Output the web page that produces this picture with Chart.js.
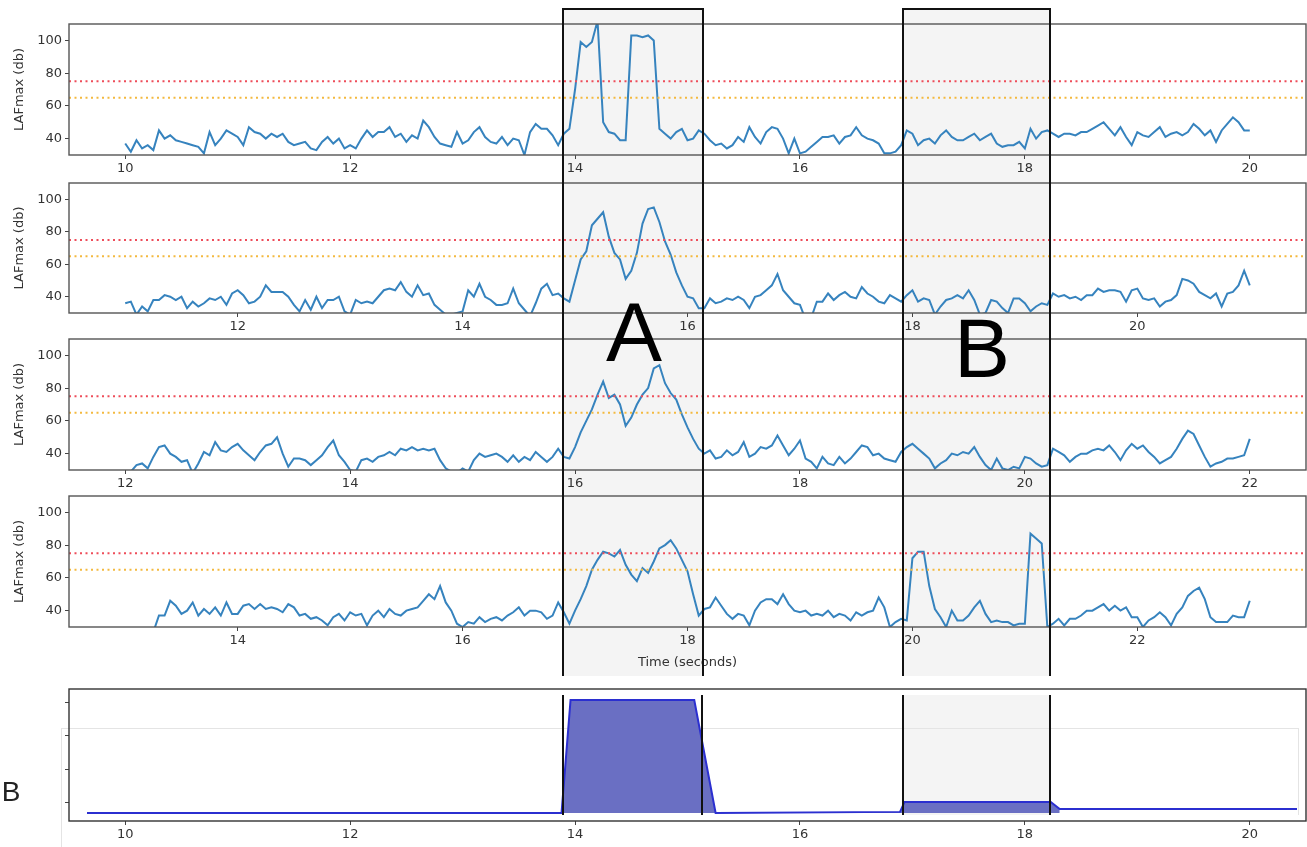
<!DOCTYPE html>
<html>
<head>
<meta charset="utf-8">
<title>LAFmax windows</title>
<script src="https://cdn.jsdelivr.net/npm/chart.js@4.4.1/dist/chart.umd.min.js"></script>
<style>
  body { margin: 0; background: #fff; }
  #fig { position: relative; width: 1307px; height: 847px; overflow: hidden; }
  canvas { position: absolute; left: 0; z-index: 1; }
  .shade { position: absolute; background: #f4f4f4; z-index: 0; }
  .ghost { position: absolute; z-index: 0; border-color: #e4e4e4; border-style: solid; border-width: 0; }
  .box { position: absolute; box-sizing: border-box; border: 2px solid #111; border-bottom: none; z-index: 2; }
  .vline { position: absolute; width: 2px; background: #111; z-index: 2; }
  .tag { position: absolute; z-index: 3; font-family: "Liberation Sans", Arial, sans-serif; color: #000; line-height: 1; text-align: center; }
</style>
</head>
<body>
<div id="fig">
  <div class="shade" style="left:564px; top:10px; width:138px; height:666px"></div>
  <div class="shade" style="left:904px; top:10px; width:145px; height:666px"></div>
  <div class="shade" style="left:904px; top:695px; width:145px; height:120px"></div>
  <div class="ghost" style="left:61px; top:728px; width:1237px; height:119px; border-top-width:1px; border-left-width:1px"></div>
  <div class="ghost" style="left:1298px; top:728px; width:0; height:87px; border-left-width:1px"></div>

  <canvas id="p1" width="1307" height="157" style="top:20px"></canvas>
  <canvas id="p2" width="1307" height="156" style="top:179px"></canvas>
  <canvas id="p3" width="1307" height="157" style="top:335px"></canvas>
  <canvas id="p4" width="1307" height="185" style="top:492px"></canvas>
  <canvas id="p5" width="1307" height="162" style="top:685px"></canvas>

  <div class="box" style="left:562px; top:8px; width:142px; height:668px"></div>
  <div class="box" style="left:902px; top:8px; width:149px; height:668px"></div>
  <div class="vline" style="left:562px; top:695px; height:120px"></div>
  <div class="vline" style="left:701px; top:695px; height:120px"></div>
  <div class="vline" style="left:902px; top:695px; height:120px"></div>
  <div class="vline" style="left:1049px; top:695px; height:120px"></div>

  <div class="tag" style="left:594px; top:290px; width:80px; font-size:84px">A</div>
  <div class="tag" style="left:942px; top:306px; width:80px; font-size:84px">B</div>
  <div class="tag" style="left:0px; top:778px; width:22px; font-size:28px; color:#222">B</div>
</div>

<script>
// sample clock of the recordings (seconds between points)
const SAMPLE_STEP = 0.05;

// window 1: 10 s .. 20 s
const start1 = 10;
const laf1 = [
  37,32,39,34,36,33,45,40,42,39, 38,37,36,35,31,44,36,40,45,43,
  41,36,47,44,43,40,43,41,43,38, 36,37,38,34,33,38,41,37,40,34,
  36,34,40,45,41,44,44,47,41,43, 38,42,40,51,47,41,37,36,35,44,
  37,39,44,47,41,38,37,41,36,40, 39,30,44,49,46,46,42,36,43,46,
  70,99,96,99,112,50,44,43,39,39, 103,103,102,103,100,46,43,40,44,46,
  39,40,45,43,39,36,37,34,36,41, 38,47,41,37,44,47,46,40,31,40,
  31,32,35,38,41,41,42,37,41,42, 47,42,40,39,37,31,31,32,36,45,
  43,36,39,40,37,42,45,41,39,39, 41,43,39,41,43,37,35,36,36,38,
  34,46,40,44,45,43,41,43,43,42, 44,44,46,48,50,46,42,47,41,36,
  44,42,41,44,47,41,43,44,42,44, 49,46,42,45,38,45,49,53,50,45,
  45
];

// window 2: 11 s .. 21 s
const start2 = 11;
const laf2 = [
  36,37,29,34,31,38,38,41,40,38, 40,33,37,34,36,39,38,40,35,42,
  44,41,36,37,40,47,43,43,43,40, 35,31,38,32,40,33,38,38,40,31,
  29,38,36,37,36,40,44,45,44,49, 43,40,47,41,42,35,32,29,29,30,
  31,44,40,48,40,38,35,35,36,45, 36,32,28,36,45,48,41,42,39,37,
  50,63,68,84,88,92,77,67,63,51, 56,67,85,94,95,86,74,66,55,47,
  40,39,33,33,39,36,37,39,38,40, 38,33,40,41,44,47,54,44,40,36,
  35,26,27,37,37,42,38,41,43,40, 39,46,42,40,37,36,41,39,37,41,
  44,37,39,38,29,34,38,39,41,39, 44,38,29,30,38,37,33,30,39,39,
  36,31,34,36,35,42,40,41,39,40, 38,41,41,45,43,44,44,43,37,44,
  45,39,38,39,34,37,38,41,51,50, 48,43,41,39,42,34,42,43,47,56,
  47
];

// window 3: 12 s .. 22 s
const start3 = 12;
const laf3 = [
  27,29,33,34,31,38,44,45,40,38, 35,36,28,34,41,39,47,42,41,44,
  46,42,39,36,41,45,46,50,40,32, 37,37,36,33,36,39,44,48,39,35,
  30,29,36,37,35,38,39,41,39,43, 42,44,42,43,42,43,36,31,29,28,
  31,29,36,40,38,39,40,38,35,39, 35,38,36,41,38,35,38,43,38,37,
  44,53,60,67,76,84,74,76,70,57, 62,70,76,80,92,94,83,77,73,64,
  56,49,43,40,42,37,38,42,39,41, 47,38,40,44,43,45,51,45,39,43,
  48,37,35,31,38,34,33,38,34,37, 41,45,44,39,40,37,36,35,41,44,
  46,43,40,37,31,34,36,40,39,41, 40,44,38,33,30,37,31,30,32,31,
  38,37,34,32,33,43,41,39,35,38, 40,40,42,43,42,45,41,36,42,46,
  43,45,41,38,34,36,38,43,49,54, 52,45,38,32,34,35,37,37,38,39,
  49
];

// window 4: 13 s .. 23 s
const start4 = 13;
const laf4 = [
  24,22,25,23,26,27,37,37,46,43, 38,40,45,37,41,38,42,37,45,38,
  38,43,44,41,44,41,42,41,39,44, 42,37,38,35,36,34,31,36,38,34,
  39,37,38,31,37,40,36,41,38,37, 40,41,42,46,50,47,55,45,40,32,
  30,33,32,36,33,35,36,34,37,39, 42,37,40,40,39,35,37,45,39,32,
  40,47,55,65,71,76,75,73,77,68, 62,58,66,63,70,78,80,83,78,71,
  64,50,37,41,42,48,43,38,35,38, 37,31,40,45,47,47,44,50,44,40,
  39,40,37,38,37,40,36,38,37,34, 39,37,39,40,48,42,30,33,35,34,
  72,76,76,55,41,36,30,40,34,34, 37,42,46,38,33,34,33,33,31,32,
  32,87,84,81,30,32,35,31,35,35, 37,40,40,42,44,40,43,40,42,36,
  36,30,34,36,39,36,31,38,42,49, 52,54,47,36,33,33,33,37,36,36,
  46
];

// limit lines (db)
const limitLevels = [75, 65];
const limitColors = ['#ee4d5a', '#f3b93f'];

// y ticks of the LAFmax panels
const lafTicks = [40, 60, 80, 100];

// x ticks per panel
const xTicks1 = [10, 12, 14, 16, 18, 20];
const xTicks2 = [12, 14, 16, 18, 20];
const xTicks3 = [12, 14, 16, 18, 20, 22];
const xTicks4 = [14, 16, 18, 20, 22];

// bottom comparison trace (unlabelled level)
const compTimes  = [9.66, 13.88, 13.96, 15.06, 15.25, 16.89, 16.93, 18.23, 18.31, 20.42];
const compLevels = [-7.6, -7.6, 76.6, 76.6, -7.6, -6.8, 0.6, 0.6, -4.6, -4.6];
const compTicks  = [0, 25, 50, 75];

const FONT = { family: '"DejaVu Sans", sans-serif', size: 13 };
const TEXT = '#333';

const framePlugin = {
  id: 'frame',
  afterDraw(chart, args, opts) {
    const { ctx, chartArea: a } = chart;
    ctx.save();
    ctx.strokeStyle = opts.color;
    ctx.lineWidth = 1.4;
    ctx.strokeRect(a.left, a.top, a.right - a.left, a.bottom - a.top);
    ctx.restore();
  }
};

function toPoints(start, values) {
  return values.map((v, i) => ({ x: +(start + i * SAMPLE_STEP).toFixed(2), y: v }));
}

// fixed-size axes so every panel lines up with the boxes drawn over them
function fitX(height) {
  return s => { s.height = height; s.paddingLeft = 0; s.paddingRight = 0; };
}
function fitY(s) {
  s.width = 61; s.paddingTop = 0; s.paddingBottom = 0;
}

function xAxis(min, max, ticks, height, title) {
  return {
    type: 'linear', min: min, max: max,
    afterBuildTicks: s => { s.ticks = ticks.map(v => ({ value: v })); },
    afterFit: fitX(height),
    grid: { drawOnChartArea: false, drawTicks: true, tickLength: 4, color: '#444' },
    border: { display: false },
    ticks: { font: FONT, color: TEXT, padding: 2, maxRotation: 0, autoSkip: false },
    title: title
      ? { display: true, text: title, font: FONT, color: TEXT, padding: { top: 0, bottom: 7 } }
      : { display: false }
  };
}

function lafPanel(id, start, values, xTicks, axisHeight, xTitle) {
  const xMin = start - 0.5, xMax = start + 10.5;
  const limits = limitLevels.map((lvl, i) => ({
    data: [{ x: xMin, y: lvl }, { x: xMax, y: lvl }],
    borderColor: limitColors[i],
    borderWidth: 2,
    borderDash: [2, 3.5],
    pointRadius: 0
  }));
  new Chart(document.getElementById(id), {
    type: 'line',
    data: {
      datasets: limits.concat([{
        data: toPoints(start, values),
        borderColor: '#3683be',
        borderWidth: 2,
        pointRadius: 0,
        tension: 0,
        clip: 0
      }])
    },
    options: {
      responsive: false,
      animation: false,
      layout: { padding: { left: 8, right: 1, top: 4, bottom: 0 } },
      plugins: { legend: { display: false }, tooltip: { enabled: false }, frame: { color: '#555' } },
      scales: {
        x: xAxis(xMin, xMax, xTicks, axisHeight, xTitle),
        y: {
          min: 30, max: 110,
          afterBuildTicks: s => { s.ticks = lafTicks.map(v => ({ value: v })); },
          afterFit: fitY,
          grid: { drawOnChartArea: false, drawTicks: true, tickLength: 4, color: '#444' },
          border: { display: false },
          ticks: { font: FONT, color: TEXT, padding: 3 },
          title: { display: true, text: 'LAFmax (db)', font: FONT, color: TEXT, padding: { top: 4, bottom: 4 } }
        }
      }
    },
    plugins: [framePlugin]
  });
}

lafPanel('p1', start1, laf1, xTicks1, 22);
lafPanel('p2', start2, laf2, xTicks2, 22);
lafPanel('p3', start3, laf3, xTicks3, 22);
lafPanel('p4', start4, laf4, xTicks4, 50, 'Time (seconds)');

// bottom comparison panel
const compPoints = compTimes.map((t, i) => ({ x: t, y: compLevels[i] }));
const baseLevel = compLevels[0];
new Chart(document.getElementById('p5'), {
  type: 'line',
  data: {
    datasets: [
      {
        data: compPoints,
        borderColor: '#2b2fd0',
        borderWidth: 2,
        pointRadius: 0,
        tension: 0
      },
      {
        data: compPoints.filter(p => p.x <= 18.31),
        borderWidth: 0,
        pointRadius: 0,
        tension: 0,
        backgroundColor: '#6a6fc3',
        fill: { target: { value: baseLevel } }
      }
    ]
  },
  options: {
    responsive: false,
    animation: false,
    layout: { padding: { left: 8, right: 1, top: 4, bottom: 0 } },
    plugins: { legend: { display: false }, tooltip: { enabled: false }, frame: { color: '#333' } },
    scales: {
      x: xAxis(9.5, 20.5, xTicks1, 26),
      y: {
        min: -13.6, max: 84.8,
        afterBuildTicks: s => { s.ticks = compTicks.map(v => ({ value: v })); },
        afterFit: fitY,
        grid: { drawOnChartArea: false, drawTicks: true, tickLength: 4, color: '#444' },
        border: { display: false },
        ticks: { callback: () => '', font: FONT }
      }
    }
  },
  plugins: [framePlugin]
});
</script>
</body>
</html>
